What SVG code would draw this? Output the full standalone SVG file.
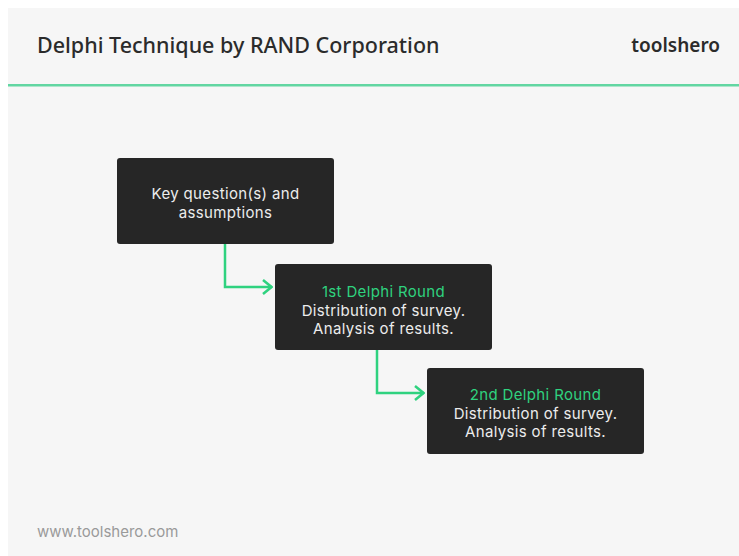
<svg xmlns="http://www.w3.org/2000/svg" width="739" height="556" viewBox="0 0 739 556">
  <style>
    .title { font-family: "Noto Sans", "Liberation Sans", sans-serif; font-size: 21.5px; font-weight: 500; fill: #2b2b2b; }
    .brand { font-family: "Noto Sans", "Liberation Sans", sans-serif; font-size: 19px; font-weight: 600; fill: #2b2b2b; }
    .foot { font-family: "Inter", "Noto Sans", sans-serif; font-size: 15px; fill: #9a9a9a; }
    .box { fill: #262626; }
    .txt { font-family: "Inter", "Noto Sans", sans-serif; font-size: 15px; letter-spacing: 0.35px; fill: #ececec; text-anchor: middle; }
    .hl { fill: #2fd27f; }
    .conn { fill: none; stroke: #2fd27f; stroke-width: 2.5; }
  </style>
  <defs>
    <marker id="chev" viewBox="0 0 12 16" refX="11" refY="8" markerWidth="12" markerHeight="16" markerUnits="userSpaceOnUse" orient="auto">
      <path d="M2,1 L10.5,8 L2,15" fill="none" stroke="#2fd27f" stroke-width="2.5"/>
    </marker>
  </defs>

  <rect x="0" y="0" width="739" height="556" fill="#ffffff"/>
  <rect x="8" y="8" width="731" height="548" fill="#f6f6f6"/>

  <g id="header">
    <text class="title" x="37" y="53">Delphi Technique by RAND Corporation</text>
    <text class="brand" x="720" y="52" text-anchor="end">toolshero</text>
    <rect x="8" y="84" width="731" height="2.5" fill="#62d6a2"/>
  </g>

  <g id="connectors">
    <path class="conn" d="M225,244 V287 H272" marker-end="url(#chev)"/>
    <path class="conn" d="M377,350 V393 H424" marker-end="url(#chev)"/>
  </g>

  <g id="node-key-questions">
    <rect class="box" x="117" y="158" width="217" height="86" rx="3"/>
    <text class="txt" x="225.5" y="199">Key question(s) and</text>
    <text class="txt" x="225.5" y="217.5">assumptions</text>
  </g>

  <g id="node-round-1">
    <rect class="box" x="275" y="264" width="217" height="86" rx="3"/>
    <text class="txt hl" x="383.5" y="297">1st Delphi Round</text>
    <text class="txt" x="383.5" y="315.5">Distribution of survey.</text>
    <text class="txt" x="383.5" y="334">Analysis of results.</text>
  </g>

  <g id="node-round-2">
    <rect class="box" x="427" y="368" width="217" height="86" rx="3"/>
    <text class="txt hl" x="535.5" y="400">2nd Delphi Round</text>
    <text class="txt" x="535.5" y="418.5">Distribution of survey.</text>
    <text class="txt" x="535.5" y="437">Analysis of results.</text>
  </g>

  <g id="footer">
    <text class="foot" x="37" y="537">www.toolshero.com</text>
  </g>
</svg>
